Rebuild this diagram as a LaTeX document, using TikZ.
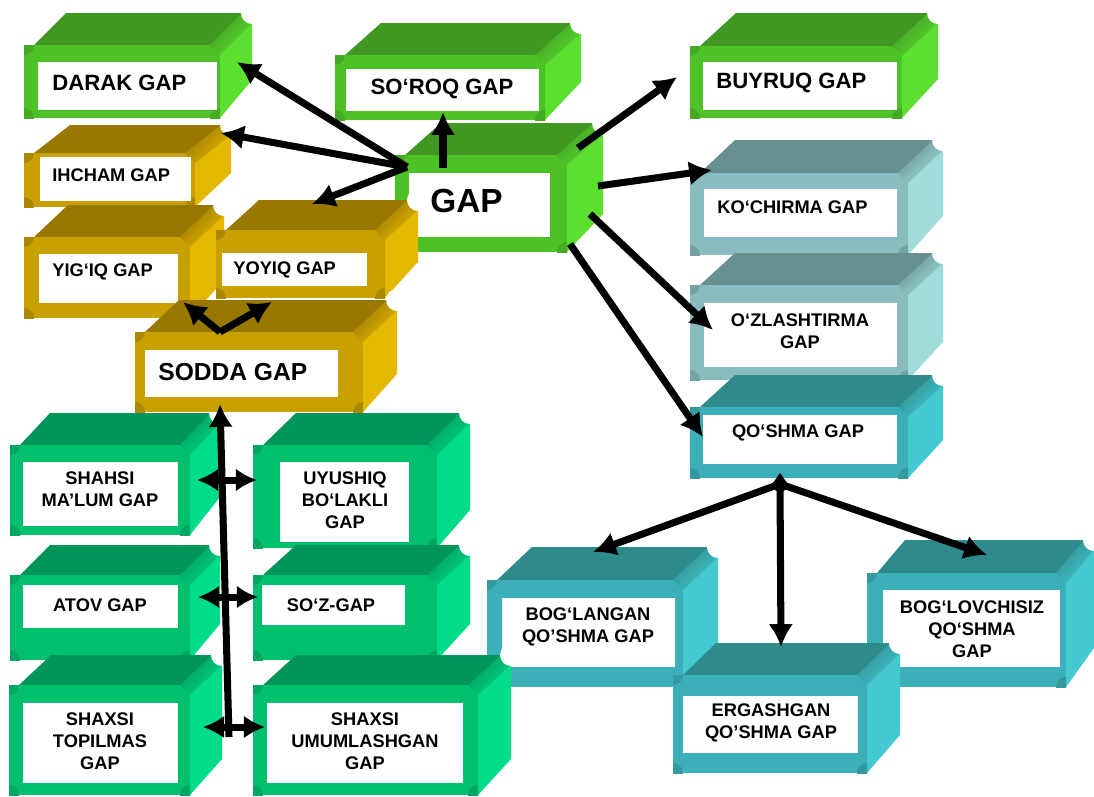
\documentclass[tikz,border=0pt]{standalone}
\usepackage{fontspec}
\setmainfont{Liberation Sans}
\usepackage{xcolor}
\usepackage{tikz}
\usetikzlibrary{arrows.meta,calc}

\definecolor{limetop}{RGB}{64,152,34}
\definecolor{limefront}{RGB}{77,194,38}
\definecolor{limeside}{RGB}{92,224,48}
\definecolor{goldtop}{RGB}{152,120,0}
\definecolor{goldfront}{RGB}{200,160,0}
\definecolor{goldside}{RGB}{228,184,0}
\definecolor{greytop}{RGB}{104,144,144}
\definecolor{greyfront}{RGB}{136,188,190}
\definecolor{greyside}{RGB}{160,220,220}
\definecolor{tealtop}{RGB}{47,138,140}
\definecolor{tealfront}{RGB}{60,176,184}
\definecolor{tealside}{RGB}{66,202,208}
\definecolor{seatop}{RGB}{0,150,90}
\definecolor{seafront}{RGB}{0,192,112}
\definecolor{seaside}{RGB}{0,220,136}

% colour set of the next boxes
\newcommand{\cubecol}[1]{\colorlet{ctop}{#1top}\colorlet{cfront}{#1front}\colorlet{cside}{#1side}}

% front face x1 y1 x2 y2, depth dx dy
\newcommand{\gapcube}[6]{%
  \fill[ctop] ({#1+10},#2) -- ({#1+10+#5},{#2-#6}) -- ({#3+#5},{#2-#6}) -- (#3,#2) -- cycle;
  \fill[cside] (#3,#2) -- ({#3+#5},{#2-#6}) -- ({#3+#5},{#4-#6-6}) -- (#3,#4) -- cycle;
  \fill[cfront] (#1,#2) rectangle (#3,#4);
  \begin{scope}
    \clip (#1,#2) rectangle (#3,#4);
    \fill[ctop!60!cfront] (#1,#2) circle (0.2cm) (#1,#4) circle (0.2cm) (#3,#4) circle (0.2cm);
  \end{scope}
  \shade[top color=ctop, bottom color=cside, shading angle=45]
    ({#3-10},#2) -- ({#3+#5-10},{#2-#6}) -- ({#3+#5},{#2-#6+10}) -- (#3,{#2+10}) -- cycle;
  \fill[white] ({#3+#5},{#2-#6}) circle (0.22cm);
}

\tikzset{
  panel/.style={fill=white},
  bigtxt/.style={font=\bfseries\fontsize{19}{22}\selectfont, inner sep=0pt},
  midtxt/.style={font=\bfseries\fontsize{12.6}{15}\selectfont, inner sep=0pt},
  soddatxt/.style={font=\bfseries\fontsize{14}{17}\selectfont, inner sep=0pt},
  smalltxt/.style={font=\bfseries\fontsize{10.4}{12.4}\selectfont, inner sep=0pt, align=center},
  gaparrow/.style={line width=4pt, -{Latex[length=13pt,width=14pt]}},
  twoway/.style={line width=4pt, {Latex[length=12pt,width=13pt]}-{Latex[length=12pt,width=13pt]}}
}

\begin{document}
\begin{tikzpicture}[x=0.02cm,y=-0.02cm]
\useasboundingbox (0,0) rectangle (1094,796);

% green boxes
\cubecol{lime}
\gapcube{24}{45}{220}{118}{32}{32}
\fill[panel] (38,62) rectangle (217,110);
\node[midtxt, anchor=west] (darak) at (52,83) {DARAK GAP};
\gapcube{335}{55}{545}{120}{36}{32}
\fill[panel] (346,69) rectangle (539,111);
\node[midtxt] (soroq) at (442,89) {SO‘ROQ GAP};
\gapcube{690}{46}{902}{118}{36}{33}
\fill[panel] (703,62) rectangle (897,110);
\node[midtxt, anchor=west] (buyruq) at (716,83) {BUYRUQ GAP};
\gapcube{395}{155}{567}{252}{36}{32}
\fill[panel] (409,173) rectangle (550,237);
\node[bigtxt, anchor=west] (gap) at (430,201) {GAP};

% grey boxes
\cubecol{grey}
\gapcube{690}{173}{908}{255}{35}{33}
\fill[panel] (704,189) rectangle (897,237);
\node[smalltxt, anchor=west] (kochirma) at (717,207) {KO‘CHIRMA GAP};
\gapcube{690}{285}{908}{380}{35}{32}
\fill[panel] (704,303) rectangle (897,367);
\node[smalltxt] (ozlash) at (800,331) {O‘ZLASHTIRMA\\GAP};

% blue boxes
\cubecol{teal}
\gapcube{690}{407}{908}{478}{35}{32}
\fill[panel] (703,415) rectangle (897,464);
\node[smalltxt] (qoshma) at (798,433) {QO‘SHMA GAP};
\gapcube{487}{580}{683}{687}{35}{33}
\fill[panel] (502,598) rectangle (675,667);
\node[smalltxt] (boglangan) at (588,627) {BOG‘LANGAN\\QO’SHMA GAP};
\gapcube{867}{573}{1066}{687}{28}{33}
\fill[panel] (883,590) rectangle (1060,667);
\node[smalltxt] (boglovchisiz) at (972,629) {BOG‘LOVCHISIZ\\QO‘SHMA\\GAP};
\gapcube{673}{675}{867}{773}{33}{32}
\fill[panel] (683,696) rectangle (858,753);
\node[smalltxt] (ergashgan) at (771,723) {ERGASHGAN\\QO’SHMA GAP};

% sea green boxes
\cubecol{sea}
\gapcube{10}{445}{190}{535}{30}{32}
\fill[panel] (23,462) rectangle (178,526);
\node[smalltxt] (shahsi) at (100,489) {SHAHSI\\MA’LUM GAP};
\gapcube{253}{445}{437}{548}{33}{32}
\fill[panel] (280,462) rectangle (409,542);
\node[smalltxt] (uyushiq) at (345,500) {UYUSHIQ\\BO‘LAKLI\\GAP};
\gapcube{10}{575}{190}{660}{30}{30}
\fill[panel] (23,585) rectangle (178,628);
\node[smalltxt] (atov) at (100,605) {ATOV GAP};
\gapcube{253}{575}{437}{660}{33}{30}
\fill[panel] (262,585) rectangle (405,625);
\node[smalltxt] (soz) at (331,605) {SO‘Z-GAP};
\gapcube{9}{685}{190}{795}{32}{30}
\fill[panel] (23,703) rectangle (178,783);
\node[smalltxt] (topilmas) at (100,741) {SHAXSI\\TOPILMAS\\GAP};
\gapcube{253}{685}{478}{795}{33}{30}
\fill[panel] (267,703) rectangle (463,783);
\node[smalltxt] (umumlash) at (365,741) {SHAXSI\\UMUMLASHGAN\\GAP};

% yellow boxes
\cubecol{gold}
\gapcube{24}{153}{195}{207}{36}{28}
\fill[panel] (40,157) rectangle (191,201);
\node[smalltxt, anchor=west] (ihcham) at (52,175) {IHCHAM GAP};
\gapcube{24}{237}{190}{318}{34}{32}
\fill[panel] (39,254) rectangle (178,303);
\node[smalltxt, anchor=west] (yigiq) at (52,272) {YIG‘IQ GAP};
\gapcube{216}{230}{385}{298}{33}{30}
\fill[panel] (222,253) rectangle (367,286);
\node[smalltxt, anchor=west] (yoyiq) at (233,270) {YOYIQ GAP};
\gapcube{135}{332}{363}{412}{34}{32}
\fill[panel] (145,350) rectangle (338,397);
\node[soddatxt, anchor=west] (sodda) at (158,372) {SODDA GAP};

% arrow ends
\coordinate (gapw) at (407,167);
\coordinate (gapn) at (443,168);
\coordinate (gapne) at (578,148);
\coordinate (gape) at (598,186);
\coordinate (gapse) at (590,214);
\coordinate (gaps) at (570,244);
\coordinate (darakin) at (237,62);
\coordinate (ihchamin) at (221,133);
\coordinate (yoyiqin) at (312,204);
\coordinate (soroqin) at (443,112);
\coordinate (buyruqin) at (677,77);
\coordinate (kochirmain) at (712,170);
\coordinate (ozlashin) at (713,330);
\coordinate (qoshmain) at (703,437);
\coordinate (soddan) at (220,332);
\coordinate (yigiqin) at (183,302);
\coordinate (yoyiqbot) at (272,302);
\coordinate (soddas) at (220,404);
\coordinate (stem) at (229,737);
\coordinate (qjoin) at (780,484);
\coordinate (boglin) at (593,552);
\coordinate (ergin) at (781,647);
\coordinate (boglovin) at (987,555);

\draw[gaparrow] (gapw) -- (darakin);
\draw[gaparrow] (gapw) -- (ihchamin);
\draw[gaparrow] (gapw) -- (yoyiqin);
\draw[gaparrow] (gapn) -- (soroqin);
\draw[gaparrow] (gapne) -- (buyruqin);
\draw[gaparrow] (gape) -- (kochirmain);
\draw[gaparrow] (gapse) -- (ozlashin);
\draw[gaparrow] (gaps) -- (qoshmain);

\draw[gaparrow] (soddan) -- (yigiqin);
\draw[gaparrow] (soddan) -- (yoyiqbot);
\draw[gaparrow] (stem) -- (soddas);
\draw[twoway] (197,480) -- (257,480);
\draw[twoway] (198,597) -- (258,597);
\draw[twoway] (203,727) -- (265,727);

\draw[gaparrow] (qjoin) -- (boglin);
\draw[gaparrow] (qjoin) -- (ergin);
\draw[gaparrow] (qjoin) -- (boglovin);
\fill (770,487) -- (780,473) -- (790,487) -- (780,493) -- cycle;
\end{tikzpicture}
\end{document}
